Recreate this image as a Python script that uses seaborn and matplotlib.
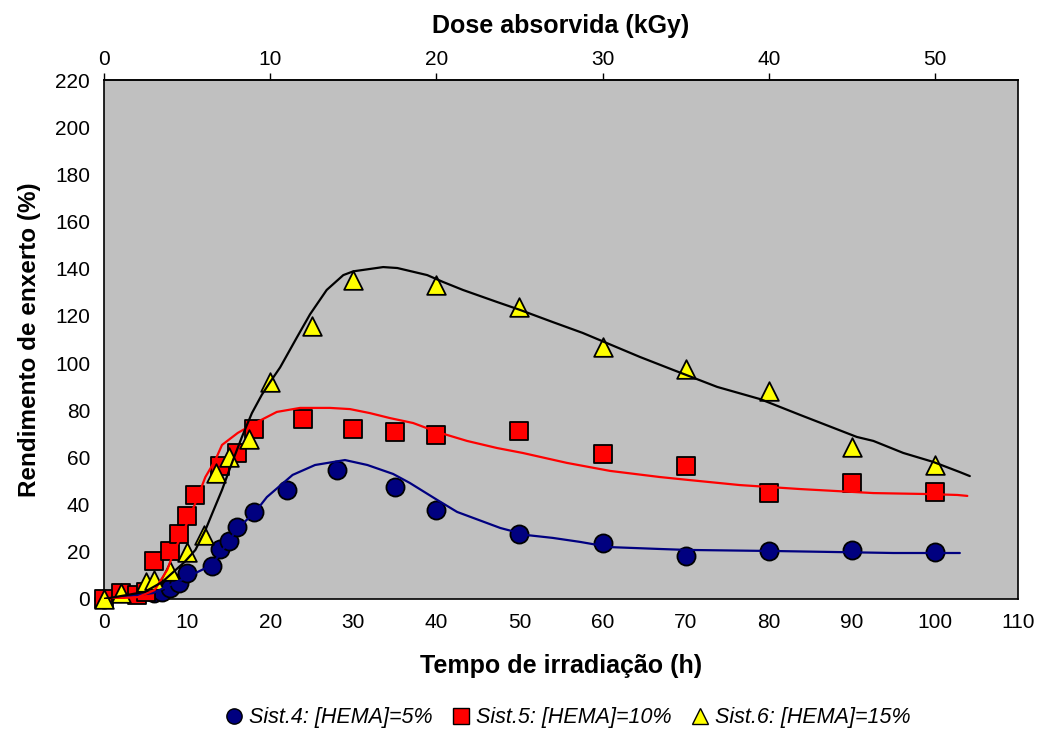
import numpy as np
import pandas as pd
import matplotlib
matplotlib.use("Agg")
import matplotlib.pyplot as plt
import seaborn as sns

# ---------------- data ----------------
# Sist.4: [HEMA]=5%  (points)
t4 = [0, 6, 7, 8, 9, 10, 13, 14, 15, 16, 18, 22, 28, 35, 40, 50, 60, 70, 80, 90, 100]
y4 = [0, 2.5, 3, 4.6, 6.8, 11, 14, 21, 24.6, 30.5, 37, 46, 54.7, 47.5, 37.7, 27.6, 23.7, 18.2, 20.3, 20.8, 19.9]

# Sist.5: [HEMA]=10%
t5 = [0, 2, 4, 5, 6, 8, 9, 10, 11, 14, 16, 18, 24, 30, 35, 40, 50, 60, 70, 80, 90, 100]
y5 = [0, 2.5, 1.7, 3, 16, 20.3, 27.6, 35, 44, 56.4, 62, 72, 76.3, 72, 70.8, 69.5, 71.2, 61.3, 56.2, 45, 49.1, 45.4]

# Sist.6: [HEMA]=15%
t6 = [0, 2, 5, 6, 8, 10, 12, 13.5, 15, 17.5, 20, 25, 30, 40, 50, 60, 70, 80, 90, 100]
y6 = [0, 2.5, 7, 8, 12, 20, 27, 53.4, 60, 68, 92, 115.8, 135.4, 133.3, 123.9, 106.9, 97.5, 88.2, 64.4, 57]

# fitted curves
ct4 = [0, 5.9, 10, 13, 16.1, 18.2, 19.6, 22.7, 25.4, 29, 31.7, 34.8, 36.8, 40.1, 42.5, 47.7,
       50.9, 54, 57.3, 60.9, 66.9, 70.2, 81.4, 95, 103]
cy4 = [0, 2.5, 9.3, 14.4, 30, 36.9, 43.2, 52.6, 56.8, 58.9, 56.8, 53, 49.2, 42, 36.9, 30.1,
       27.1, 25.9, 24.2, 22, 21.2, 20.8, 20.3, 19.5, 19.5]

ct5 = [0, 4.1, 6.1, 7.6, 8.5, 10, 11, 12.2, 13.4, 14.2, 16.1, 18.2, 20.8, 23.6, 27.2, 29.6,
       32, 34.4, 37.2, 40.1, 43.7, 47.3, 50.4, 55.7, 60.9, 66.9, 70.5, 76.5, 83.8, 92.6, 99,
       102.7, 103.9]
cy5 = [0, 0.8, 3.8, 12.3, 20.8, 32.2, 40.7, 51.7, 58.9, 65.3, 70.4, 74.6, 79.3, 81, 81, 80.5,
       78.8, 76.7, 74.6, 70.8, 67, 64, 61.9, 57.7, 54.3, 51.7, 50.4, 48.3, 46.6, 44.9, 44.5,
       44.1, 43.7]

ct6 = [0, 4.9, 7, 9.7, 11, 12.2, 13.1, 14.2, 15.4, 16.6, 17.8, 19, 20, 21.2, 23.2, 24.8, 26.8,
       28.8, 30, 33.6, 35.3, 38.9, 40.8, 43.2, 47.3, 50.1, 54, 57.6, 64.5, 68.5, 73.8, 76.5,
       79, 83.8, 90.6, 92.6, 96.2, 99.8, 103, 104.2]
cy6 = [0, 3, 7.2, 15.7, 20.8, 29.2, 36.9, 46.2, 57.7, 68.7, 78.8, 86.6, 92.0, 98.2, 110.8,
       120.7, 131, 137.3, 138.9, 140.7, 140.3, 137.3, 134.4, 131, 125.9, 122.5, 117.4, 112.8,
       102.6, 97.1, 89.9, 87.2, 84.7, 78, 68.7, 67, 61.9, 58.1, 53.8, 52.1]

labels = ["Sist.4: [HEMA]=5%", "Sist.5: [HEMA]=10%", "Sist.6: [HEMA]=15%"]
fill_colors = ["#000080", "#FF0000", "#FFFF00"]
line_colors = ["#000080", "#FF0000", "#000000"]
markers = ["o", "s", "^"]

xticks = list(range(0, 111, 10))
yticks = list(range(0, 221, 20))
top_ticks = list(range(0, 51, 10))

# ---------------- figure ----------------
sns.set_theme(style="white")
plt.rcParams["font.family"] = ["Liberation Sans", "DejaVu Sans"]
plt.rcParams["text.color"] = "black"
plt.rcParams["axes.labelcolor"] = "black"
plt.rcParams["xtick.color"] = "black"
plt.rcParams["ytick.color"] = "black"

fig = plt.figure(figsize=(10.41, 7.33), dpi=100)
ax = fig.add_axes([104 / 1041, 1 - 599 / 733, 914 / 1041, 519 / 733])
ax.set_facecolor("#C0C0C0")

pts = [(t4, y4), (t5, y5), (t6, y6)]
curves = [(ct4, cy4), (ct5, cy5), (ct6, cy6)]

handles = []
for i in range(3):
    df = pd.DataFrame({"t": pts[i][0], "y": pts[i][1]})
    sns.scatterplot(data=df, x="t", y="y", ax=ax, marker=markers[i], s=170 if i != 2 else 180,
                    color=fill_colors[i], edgecolor="black", linewidth=1.3, zorder=3,
                    clip_on=False)
    dc = pd.DataFrame({"t": curves[i][0], "y": curves[i][1]})
    sns.lineplot(data=dc, x="t", y="y", ax=ax, color=line_colors[i], linewidth=1.6,
                 sort=False, estimator=None, zorder=4)
    h = plt.Line2D([], [], linestyle="none", marker=markers[i], markersize=11,
                   markerfacecolor=fill_colors[i], markeredgecolor="black",
                   markeredgewidth=1.0, label=labels[i])
    handles.append(h)

ax.set_xlim(0, 110)
ax.set_ylim(0, 220)
ax.set_xticks(xticks)
ax.set_yticks(yticks)
ax.tick_params(axis="both", direction="out", length=5, width=1, color="black",
               labelsize=15, labelcolor="black", pad=5)
for s in ax.spines.values():
    s.set_color("black")
    s.set_linewidth(1.2)

ax.set_xlabel("Tempo de irradiação (h)", fontsize=18, fontweight="bold", labelpad=16,
              color="black")
ax.set_ylabel("Rendimento de enxerto (%)", fontsize=17.5, fontweight="bold", labelpad=10,
              color="black")

secax = ax.secondary_xaxis("top", functions=(lambda t: t / 2, lambda d: d * 2))
secax.set_xticks(top_ticks)
secax.tick_params(axis="x", direction="out", length=5, width=1, color="black",
                  labelsize=15, labelcolor="black", pad=3)
secax.set_xlabel("Dose absorvida (kGy)", fontsize=18, fontweight="bold", labelpad=12,
                 color="black")

leg = fig.legend(handles=handles, loc="center", bbox_to_anchor=(568 / 1041, 1 - 718 / 733),
                 ncol=3, frameon=False, handlelength=0.8, handletextpad=0.3,
                 columnspacing=0.9, prop={"style": "italic", "size": 15.5})
for txt in leg.get_texts():
    txt.set_color("black")

fig.savefig("out.png", dpi=100)
